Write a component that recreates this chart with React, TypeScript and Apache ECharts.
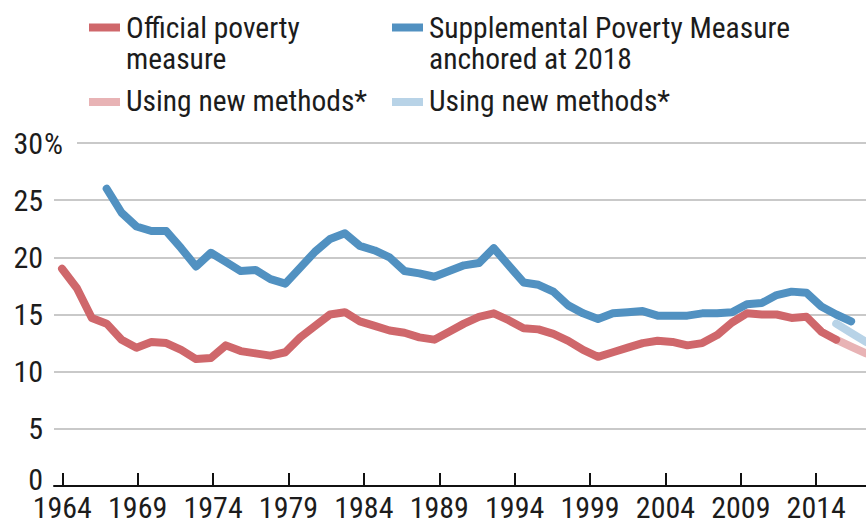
import React, { useEffect, useRef } from "react";
import * as echarts from "echarts";

// ---- data ----
const officialStartYear = 1964;
const officialValues = [
  19.0, 17.3, 14.7, 14.2, 12.8, 12.1, 12.6, 12.5, 11.9, 11.1, 11.2, 12.3, 11.8, 11.6, 11.4, 11.7,
  13.0, 14.0, 15.0, 15.2, 14.4, 14.0, 13.6, 13.4, 13.0, 12.8, 13.5, 14.2, 14.8, 15.1, 14.5, 13.8,
  13.7, 13.3, 12.7, 11.9, 11.3, 11.7, 12.1, 12.5, 12.7, 12.6, 12.3, 12.5, 13.2, 14.3, 15.1, 15.0,
  15.0, 14.7, 14.8, 13.5, 12.8,
];
const officialNewStartYear = 2016;
const officialNewValues = [12.8, 12.2, 11.6];

const spmStartYear = 1967;
const spmValues = [
  26.0, 23.9, 22.7, 22.3, 22.3, 20.8, 19.2, 20.4, 19.6, 18.8, 18.9, 18.1, 17.7, 19.1, 20.5, 21.6,
  22.1, 21.0, 20.6, 20.0, 18.8, 18.6, 18.3, 18.8, 19.3, 19.5, 20.8, 19.3, 17.8, 17.6, 17.0, 15.8,
  15.1, 14.6, 15.1, 15.2, 15.3, 14.9, 14.9, 14.9, 15.1, 15.1, 15.2, 15.9, 16.0, 16.7, 17.0, 16.9,
  15.7, 15.0, 14.4,
];
const spmNewStartYear = 2016;
const spmNewValues = [14.2, 13.4, 12.6];

const xTickYears = [1964, 1969, 1974, 1979, 1984, 1989, 1994, 1999, 2004, 2009, 2014];
const yTicks = [0, 5, 10, 15, 20, 25, 30];

const legendLabels = [
  "Official poverty\nmeasure",
  "Supplemental Poverty Measure\nanchored at 2018",
  "Using new methods*",
  "Using new methods*",
];

const RED = "#CF676B";
const BLUE = "#5191C1";
const LIGHT_RED = "#E8B3B5";
const LIGHT_BLUE = "#B8D3E7";
const TEXT = "#1c1c1c";
const FONT =
  "'Roboto Condensed', 'Noto Sans Condensed', 'Open Sans Condensed', 'Liberation Sans Narrow', 'Arial Narrow', Roboto, sans-serif";

const toPairs = (start: number, vals: number[]) => vals.map((v, i) => [start + i, v]);

export default function App() {
  const ref = useRef<HTMLDivElement>(null);
  useEffect(() => {
    if (!ref.current) return;
    const chart = echarts.init(ref.current, null, { renderer: "svg" });
    const lineSeries = (name: string, data: number[][], color: string, z: number) => ({
      name,
      type: "line",
      xAxisIndex: 1,
      yAxisIndex: 0,
      data,
      showSymbol: false,
      symbol: "none",
      z,
      lineStyle: { color, width: 8, cap: "round", join: "round" },
      itemStyle: { color },
    });
    const legendItem = (x: number, y: number, color: string, label: string, multi: boolean) => [
      { type: "rect", x, y, shape: { width: 31, height: 8 }, style: { fill: color }, z: 100 },
      multi
        ? {
            type: "text",
            x: x + 37,
            y: y - 11.5,
            z: 100,
            style: {
              text: label,
              font: `29.5px ${FONT}`,
              fill: TEXT,
              lineHeight: 31,
              verticalAlign: "top",
              align: "left",
            },
          }
        : {
            type: "text",
            x: x + 37,
            y: y + 3,
            z: 100,
            style: {
              text: label,
              font: `29.5px ${FONT}`,
              fill: TEXT,
              verticalAlign: "middle",
              align: "left",
            },
          },
    ];
    chart.setOption({
      animation: false,
      grid: { left: 54, right: 0, top: 143, bottom: 37, containLabel: false },
      xAxis: [
        {
          type: "value",
          min: 1963.45,
          max: 2017.3,
          position: "bottom",
          axisLine: { show: true, onZero: false, lineStyle: { color: "#111", width: 2 } },
          axisTick: {
            show: true,
            inside: true,
            length: 13,
            customValues: xTickYears,
            lineStyle: { color: "#111", width: 2 },
          },
          axisLabel: {
            show: true,
            customValues: xTickYears,
            margin: 9,
            lineHeight: 24,
            fontSize: 30,
            fontFamily: FONT,
            color: TEXT,
            formatter: (v: number) => String(Math.round(v)),
          },
          splitLine: { show: false },
          z: 5,
        },
        {
          type: "value",
          min: 1963.46,
          max: 2018,
          show: false,
          splitLine: { show: false },
        },
      ],
      yAxis: {
        type: "value",
        min: 0,
        max: 30,
        interval: 5,
        axisLine: { show: false },
        axisTick: { show: false },
        axisLabel: {
          margin: 11,
          fontSize: 30,
          fontFamily: FONT,
          color: TEXT,
          customValues: yTicks,
          verticalAlignMinLabel: "bottom",
          formatter: (v: number) => (v === 0 ? "{z|0}" : String(v)),
          rich: {
            z: { fontSize: 30, fontFamily: FONT, color: TEXT, lineHeight: 14 },
          },
        },
        splitLine: { show: true, lineStyle: { color: "#C9C9C9", width: 2 } },
      },
      series: [
        lineSeries("officialNew", toPairs(officialNewStartYear, officialNewValues), LIGHT_RED, 2),
        lineSeries("spmNew", toPairs(spmNewStartYear, spmNewValues), LIGHT_BLUE, 2),
        lineSeries("official", toPairs(officialStartYear, officialValues), RED, 3),
        lineSeries("spm", toPairs(spmStartYear, spmValues), BLUE, 3),
      ],
      graphic: [
        { type: "rect", x: 44, y: 138, shape: { width: 33, height: 10 }, style: { fill: "#fff" }, z: 90 },
        {
          type: "text",
          x: 44,
          y: 143,
          z: 100,
          style: { text: "%", font: `30px ${FONT}`, fill: TEXT, verticalAlign: "middle", align: "left" },
        },
        ...legendItem(89, 23.5, RED, legendLabels[0], true),
        ...legendItem(392, 23.5, BLUE, legendLabels[1], true),
        ...legendItem(89, 98, LIGHT_RED, legendLabels[2], false),
        ...legendItem(392, 98, LIGHT_BLUE, legendLabels[3], false),
      ],
    });
    return () => chart.dispose();
  }, []);
  return (
    <div
      ref={ref}
      style={{ position: "fixed", left: 0, top: 0, width: 866, height: 523, background: "#fff" }}
    />
  );
}
